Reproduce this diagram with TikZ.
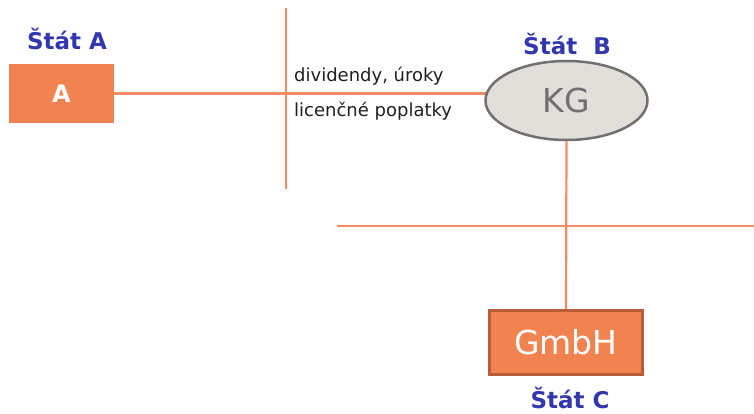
\documentclass[tikz,border=0pt]{standalone}
\usepackage{fontspec}
\setmainfont{DejaVu Sans}
\usetikzlibrary{shapes.geometric,backgrounds}
\definecolor{stblue}{RGB}{50,55,175}
\definecolor{boxor}{RGB}{240,131,80}
\definecolor{lineor}{RGB}{243,140,100}
\definecolor{gmbhbd}{RGB}{185,92,55}
\definecolor{kgfill}{RGB}{226,223,218}
\definecolor{kggray}{RGB}{112,112,112}
\tikzset{
  statelabel/.style={text=stblue,font=\fontsize{23}{26}\selectfont\bfseries,inner sep=0pt,anchor=base},
  flowtext/.style={text=black!88,font=\fontsize{18}{21}\selectfont,inner sep=0pt,anchor=base west},
  orline/.style={draw=lineor,line width=2.2pt},
}
\begin{document}
\begin{tikzpicture}[x=1pt,y=-1pt]
\useasboundingbox (0,0) rectangle (754,414);
\node[statelabel] (sa) at (67,50) {Štát A};
\node[statelabel] (sb) at (567,55) {Štát\ \ B};
\node[statelabel] (sc) at (570,408) {Štát C};
\node[fill=boxor,minimum width=105pt,minimum height=59pt,inner sep=0pt,text=white,font=\fontsize{24}{28}\selectfont\bfseries] (A) at (61.5,93.5) {A};
\node[ellipse,fill=kgfill,draw=kggray,line width=2.5pt,minimum width=162pt,minimum height=79pt,inner sep=0pt,text=kggray,font=\fontsize{33}{36}\selectfont] (KG) at (566.5,100.5) {KG};
\node[rectangle,fill=boxor,draw=gmbhbd,line width=2.4pt,minimum width=153pt,minimum height=64pt,inner sep=0pt,text=white,font=\fontsize{33}{36}\selectfont] (G) at (566,342.5) {GmbH};
\node[flowtext] (t1) at (294,82) {dividendy, úroky};
\node[flowtext] (t2) at (294,117) {licenčné poplatky};
\coordinate (v1) at (286,8);
\coordinate (v2) at (286,189);
\coordinate (h1) at (337,226);
\coordinate (h2) at (754,226);
\coordinate (ka) at (540,94);
\begin{scope}[on background layer]
\draw[orline] (A.east) -- (A.east -| ka);
\draw[orline] (v1) -- (v2);
\draw[orline] (h1) -- (h2);
\draw[orline] (KG.south) -- (G.north);
\end{scope}
\end{tikzpicture}
\end{document}
